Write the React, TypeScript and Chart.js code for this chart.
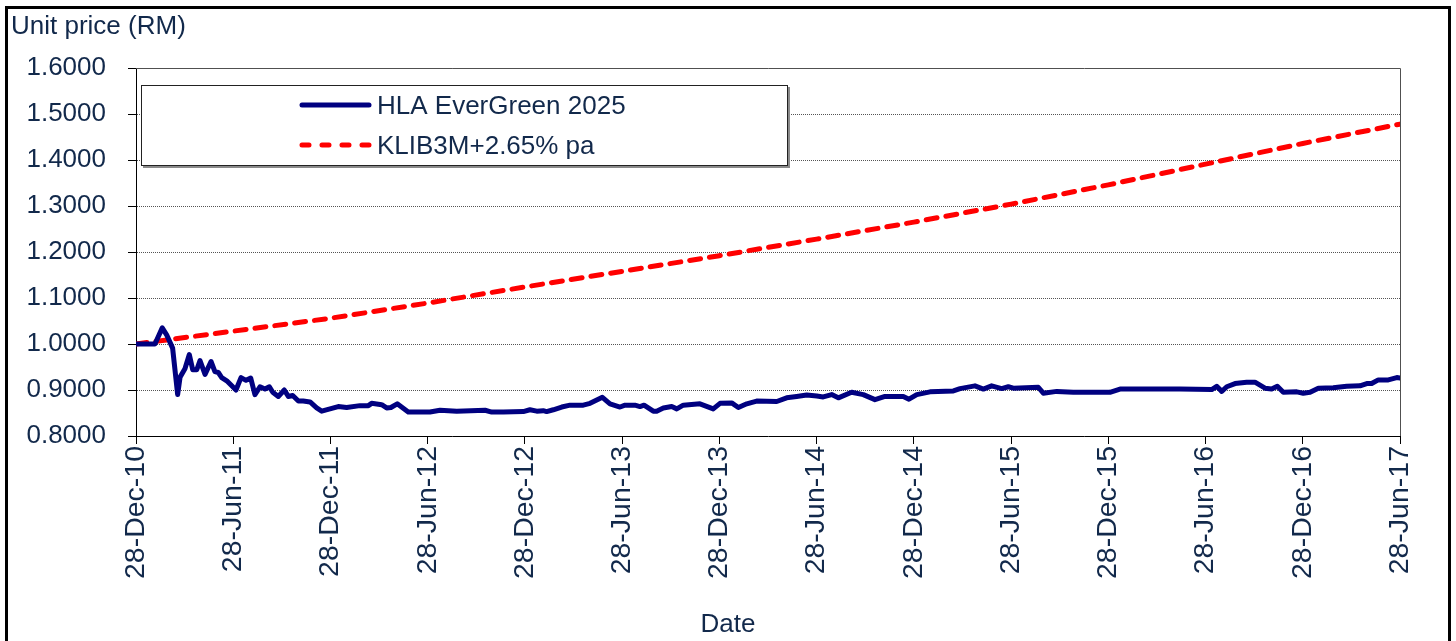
import React, { useEffect, useRef } from "react";
import { Chart, registerables } from "chart.js";

Chart.register(...registerables);

const FONT = '"Liberation Sans", Arial, Helvetica, sans-serif';
const TEXT = "#12294b";

const seriesNames = ["HLA EverGreen 2025", "KLIB3M+2.65% pa"];
const xTickLabels = [
  "28-Dec-10", "28-Jun-11", "28-Dec-11", "28-Jun-12", "28-Dec-12", "28-Jun-13", "28-Dec-13",
  "28-Jun-14", "28-Dec-14", "28-Jun-15", "28-Dec-15", "28-Jun-16", "28-Dec-16", "28-Jun-17",
];
const yTitle = "Unit price (RM)";
const xTitle = "Date";

// months since 28-Dec-10
const hlaMonths = [
  0, 1.17, 1.62, 1.89, 2.26, 2.57, 2.72, 3.02, 3.29, 3.5, 3.75, 3.95, 4.26, 4.63, 4.87, 5.08, 5.29, 5.6, 5.91,
  6.17, 6.48, 6.79, 7.08, 7.34, 7.65, 7.96, 8.23, 8.44, 8.78, 9.15, 9.4, 9.67, 10.02, 10.32, 10.74, 11.15, 11.46,
  11.97, 12.48, 13.0, 13.82, 14.34, 14.54, 15.16, 15.47, 15.73, 16.12, 16.8, 18.14, 18.76, 19.79, 21.54, 21.95,
  22.67, 23.9, 24.31, 24.73, 25.13, 25.34, 25.75, 26.27, 26.78, 27.6, 28.02, 28.78, 29.25, 29.87, 30.18, 30.79,
  31.1, 31.35, 31.92, 32.13, 32.54, 33.06, 33.37, 33.77, 34.8, 35.62, 36.04, 36.76, 37.17, 37.69, 38.3, 39.54,
  40.15, 40.77, 41.39, 42.01, 42.41, 42.93, 43.34, 44.16, 44.88, 45.6, 46.22, 47.35, 47.7, 48.18, 49.0, 50.44,
  50.85, 51.77, 52.29, 52.8, 53.42, 53.83, 54.14, 55.68, 55.99, 56.82, 57.84, 60.1, 60.72, 64.42, 66.38, 66.69,
  67.0, 67.31, 67.82, 68.54, 69.05, 69.67, 70.08, 70.43, 70.8, 71.63, 72.03, 72.45, 72.96, 73.88, 74.71, 75.53,
  75.95, 76.25, 76.66, 77.28, 77.8, 78.0,
];
const hlaValues = [
  1.0, 1.0, 1.035, 1.02, 0.991, 0.89, 0.928, 0.946, 0.977, 0.944, 0.944, 0.964, 0.934, 0.962, 0.94, 0.938, 0.927,
  0.92, 0.909, 0.9, 0.927, 0.921, 0.926, 0.89, 0.907, 0.902, 0.907, 0.895, 0.886, 0.9, 0.886, 0.888, 0.876, 0.876,
  0.874, 0.861, 0.854, 0.859, 0.864, 0.862, 0.866, 0.866, 0.871, 0.868, 0.861, 0.862, 0.87, 0.852, 0.852, 0.856,
  0.854, 0.856, 0.852, 0.852, 0.853, 0.857, 0.854, 0.855, 0.853, 0.857, 0.863, 0.867, 0.867, 0.871, 0.884, 0.87,
  0.863, 0.867, 0.867, 0.864, 0.867, 0.854, 0.854, 0.861, 0.864, 0.859, 0.867, 0.87, 0.859, 0.871, 0.872, 0.862,
  0.87, 0.876, 0.875, 0.883, 0.886, 0.889, 0.887, 0.885, 0.89, 0.883, 0.895, 0.89, 0.879, 0.886, 0.886, 0.88,
  0.89, 0.896, 0.898, 0.903, 0.909, 0.902, 0.909, 0.903, 0.907, 0.904, 0.906, 0.893, 0.897, 0.895, 0.895, 0.902,
  0.902, 0.901, 0.908, 0.897, 0.907, 0.914, 0.917, 0.917, 0.904, 0.902, 0.908, 0.895, 0.896, 0.893, 0.895, 0.904,
  0.905, 0.908, 0.909, 0.914, 0.914, 0.922, 0.922, 0.927, 0.926,
];
const klibMonths = [0, 6, 12, 18, 24, 30, 36, 42, 48, 54, 60, 66, 72, 78];
const klibValues = [1.0, 1.028, 1.056, 1.089, 1.124, 1.158, 1.192, 1.228, 1.265, 1.304, 1.346, 1.391, 1.436, 1.478];

const decorPlugin = {
  id: "decor",
  beforeDatasetsDraw(chart: any) {
    const { ctx, chartArea } = chart;
    ctx.save();
    ctx.strokeStyle = "#505050";
    ctx.lineWidth = 1;
    ctx.setLineDash([]);
    ctx.beginPath();
    ctx.moveTo(chartArea.left, Math.round(chartArea.top) + 0.5);
    ctx.lineTo(Math.round(chartArea.right) + 0.5, Math.round(chartArea.top) + 0.5);
    ctx.lineTo(Math.round(chartArea.right) + 0.5, chartArea.bottom);
    ctx.stroke();
    ctx.restore();
  },
  afterDraw(chart: any) {
    const { ctx, width, height } = chart;
    ctx.save();
    // outer frame
    ctx.strokeStyle = "#000";
    ctx.lineWidth = 3;
    ctx.setLineDash([]);
    ctx.beginPath();
    ctx.moveTo(6.5, height + 5);
    ctx.lineTo(6.5, 7.5);
    ctx.lineTo(width - 6.5, 7.5);
    ctx.lineTo(width - 6.5, height + 5);
    ctx.stroke();

    // titles
    ctx.fillStyle = TEXT;
    ctx.font = `26px ${FONT}`;
    ctx.textBaseline = "alphabetic";
    ctx.textAlign = "left";
    ctx.fillText(yTitle, 11, 34);
    ctx.textAlign = "center";
    ctx.fillText(xTitle, width / 2, 632);

    // legend
    const lx = 141, ly = 85, lw = 647, lh = 81;
    ctx.fillStyle = "#8a8a8a";
    ctx.fillRect(lx + 2, ly + 2, lw, lh);
    ctx.fillStyle = "#fff";
    ctx.fillRect(lx, ly, lw, lh);
    ctx.strokeStyle = "#222";
    ctx.lineWidth = 1;
    ctx.strokeRect(lx + 0.5, ly + 0.5, lw - 1, lh - 1);
    chart.data.datasets.forEach((ds: any, i: number) => {
      const y = 105 + 40 * i;
      ctx.strokeStyle = ds.borderColor;
      ctx.lineWidth = 5;
      ctx.lineCap = "round";
      ctx.setLineDash(ds.borderDash && ds.borderDash.length ? [7, 13] : []);
      ctx.beginPath();
      ctx.moveTo(302, y);
      ctx.lineTo(369, y);
      ctx.stroke();
      ctx.setLineDash([]);
      ctx.fillStyle = TEXT;
      ctx.textAlign = "left";
      ctx.font = `26px ${FONT}`;
      ctx.fillText(ds.label, 377, y + 9);
    });
    ctx.restore();
  },
};

export default function App() {
  const ref = useRef<HTMLCanvasElement | null>(null);

  useEffect(() => {
    if (!ref.current) return;
    const hlaData = hlaMonths.map((m, i) => ({ x: m, y: hlaValues[i] }));
    const klibData = klibMonths.map((m, i) => ({ x: m, y: klibValues[i] }));
    const chart = new Chart(ref.current, {
      type: "line",
      data: {
        datasets: [
          {
            label: seriesNames[0],
            data: hlaData,
            borderColor: "#000080",
            borderWidth: 5,
            pointRadius: 0,
            tension: 0,
            borderJoinStyle: "round",
            borderCapStyle: "round",
            fill: false,
          },
          {
            label: seriesNames[1],
            data: klibData,
            borderColor: "#ff0000",
            borderWidth: 5,
            borderDash: [11, 9],
            borderCapStyle: "round",
            pointRadius: 0,
            tension: 0,
            fill: false,
          },
        ],
      },
      options: {
        responsive: false,
        animation: false,
        devicePixelRatio: 1,
        layout: { padding: { left: 0, right: 56, top: 68, bottom: 0 } },
        plugins: {
          legend: { display: false },
          tooltip: { enabled: false },
          title: { display: false },
        },
        scales: {
          x: {
            type: "linear",
            min: 0,
            max: 78,
            afterFit(scale: any) {
              scale.height = 205;
            },
            ticks: {
              stepSize: 6,
              autoSkip: false,
              minRotation: 90,
              maxRotation: 90,
              padding: 2,
              color: TEXT,
              font: { family: FONT, size: 28.5 },
              callback: (_v: any, i: number) => xTickLabels[i],
            },
            grid: {
              drawOnChartArea: false,
              drawTicks: true,
              tickLength: 8,
              tickColor: "#000",
              tickWidth: 1,
              tickBorderDash: [],
            },
            border: { display: true, color: "#000", width: 1 },
          },
          y: {
            type: "linear",
            min: 0.8,
            max: 1.6,
            afterFit(scale: any) {
              scale.width = 136;
            },
            ticks: {
              stepSize: 0.1,
              padding: 22,
              color: TEXT,
              font: { family: FONT, size: 26 },
              callback: (v: any) => Number(v).toFixed(4),
            },
            grid: {
              color: "#555",
              lineWidth: 1,
              drawTicks: true,
              tickLength: 8,
              tickColor: "#000",
              tickWidth: 1,
              tickBorderDash: [],
            },
            border: { display: true, color: "#000", width: 1, dash: [1, 1] },
          },
        },
      },
      plugins: [decorPlugin],
    } as any);
    return () => chart.destroy();
  }, []);

  return (
    <canvas
      ref={ref}
      width={1456}
      height={641}
      style={{ position: "absolute", left: 0, top: 0, width: 1456, height: 641, display: "block" }}
    />
  );
}
